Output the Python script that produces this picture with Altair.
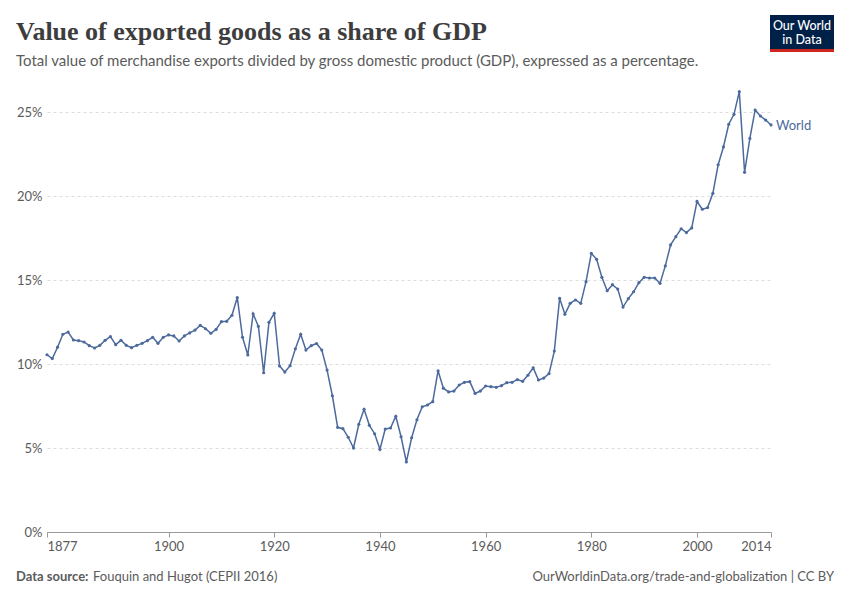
import altair as alt
import pandas as pd

years = list(range(1877, 2015))
values = [
    10.55, 10.32, 11.0, 11.77, 11.9, 11.43, 11.39, 11.31, 11.09, 10.95,
    11.11, 11.41, 11.63, 11.15, 11.41, 11.11, 10.97, 11.11, 11.23, 11.39,
    11.59, 11.23, 11.59, 11.73, 11.67, 11.37, 11.67, 11.85, 12.02, 12.3,
    12.1, 11.83, 12.06, 12.52, 12.54, 12.9, 13.96, 11.59, 10.54, 12.99,
    12.24, 9.48, 12.48, 13.02, 9.88, 9.52, 9.9, 10.91, 11.77, 10.83,
    11.09, 11.22, 10.83, 9.64, 8.11, 6.23, 6.15, 5.64, 5.0, 6.41,
    7.3, 6.35, 5.85, 4.92, 6.13, 6.19, 6.89, 5.67, 4.17, 5.61,
    6.68, 7.45, 7.56, 7.76, 9.6, 8.56, 8.34, 8.39, 8.75, 8.91,
    8.95, 8.25, 8.39, 8.69, 8.65, 8.61, 8.71, 8.89, 8.91, 9.07,
    8.97, 9.33, 9.77, 9.05, 9.16, 9.43, 10.77, 13.91, 12.96, 13.61,
    13.81, 13.61, 14.9, 16.59, 16.23, 15.16, 14.36, 14.72, 14.46, 13.39,
    13.89, 14.3, 14.84, 15.16, 15.12, 15.12, 14.8, 15.84, 17.09, 17.58,
    18.05, 17.82, 18.1, 19.68, 19.21, 19.31, 20.16, 21.86, 22.92, 24.27,
    24.86, 26.21, 21.41, 23.43, 25.12, 24.76, 24.52, 24.23,
]
series_name = "World"
x_ticks = [1877, 1900, 1920, 1940, 1960, 1980, 2000, 2014]
y_ticks = [0, 5, 10, 15, 20, 25]

title_text = "Value of exported goods as a share of GDP"
subtitle_text = ("Total value of merchandise exports divided by gross domestic product (GDP), "
                 "expressed as a percentage.")
source_label = "Data source:"
source_text = "Fouquin and Hugot (CEPII 2016)"
credit_text = "OurWorldinData.org/trade-and-globalization | CC BY"

df = pd.DataFrame({"year": years, "value": values, "entity": series_name})

BLUE = "#4C6A9C"
GREY = "#5b5b5b"
W, H = 724, 441
OX, OY = 47, 91  # plot origin in page coords


def px(x):
    return x - OX


def py(y):
    return y - OY


x_enc = alt.X("year:Q", scale=alt.Scale(domain=[1877, 2014], nice=False, zero=False),
              axis=alt.Axis(values=x_ticks, format="d", title=None, grid=False,
                            domainColor="#999999", tickColor="#999999", tickSize=5,
                            labelFlush=True, labelColor=GREY, labelFontSize=13,
                            labelFont="Lato", labelPadding=3))
y_enc = alt.Y("value:Q", scale=alt.Scale(domain=[0, 26.25], nice=False),
              axis=alt.Axis(values=y_ticks, title=None, labelExpr="datum.value + '%'",
                            grid=True, gridDash=[3, 3], gridColor="#dddddd",
                            domain=False, ticks=False, labelColor=GREY,
                            labelFontSize=13, labelFont="Lato", labelPadding=5))

line = alt.Chart(df).mark_line(
    color=BLUE, strokeWidth=1.5,
    point=alt.OverlayMarkDef(color=BLUE, size=10, filled=True)
).encode(x=x_enc, y=y_enc)

label = alt.Chart(df).transform_filter(alt.datum.year == 2014).mark_text(
    align="left", baseline="middle", dx=5, dy=1, color=BLUE, fontSize=13, font="Lato"
).encode(x="year:Q", y="value:Q", text="entity:N")

one = pd.DataFrame({"a": [0]})
base = alt.Chart(one)

title = base.mark_text(align="left", baseline="alphabetic", font="Liberation Serif",
                       fontSize=26, fontWeight="bold", color="#3d3d3d").encode(
    x=alt.value(px(16)), y=alt.value(py(40)), text=alt.value(title_text))
subtitle = base.mark_text(align="left", baseline="alphabetic", font="Lato",
                          fontSize=15, color=GREY).encode(
    x=alt.value(px(16)), y=alt.value(py(66)), text=alt.value(subtitle_text))

logo_bg = base.mark_rect(color="#002147").encode(
    x=alt.value(px(770)), x2=alt.value(px(834)), y=alt.value(py(15)), y2=alt.value(py(49)))
logo_red = base.mark_rect(color="#CE261E").encode(
    x=alt.value(px(770)), x2=alt.value(px(834)), y=alt.value(py(49)), y2=alt.value(py(52)))
logo_t1 = base.mark_text(align="center", baseline="alphabetic", font="Lato", fontSize=12.5,
                         fontWeight=500, color="white").encode(
    x=alt.value(px(802)), y=alt.value(py(30)), text=alt.value("Our World"))
logo_t2 = base.mark_text(align="center", baseline="alphabetic", font="Lato", fontSize=12.5,
                         fontWeight=500, color="white").encode(
    x=alt.value(px(802)), y=alt.value(py(44)), text=alt.value("in Data"))

src1 = base.mark_text(align="left", baseline="alphabetic", font="Lato", fontSize=13,
                      fontWeight="bold", color=GREY).encode(
    x=alt.value(px(16)), y=alt.value(py(581)), text=alt.value(source_label))
src2 = base.mark_text(align="left", baseline="alphabetic", font="Lato", fontSize=13,
                      color=GREY).encode(
    x=alt.value(px(93)), y=alt.value(py(581)), text=alt.value(source_text))
credit = base.mark_text(align="right", baseline="alphabetic", font="Lato", fontSize=13,
                        color=GREY).encode(
    x=alt.value(px(834)), y=alt.value(py(581)), text=alt.value(credit_text))

chart = alt.layer(line, label, title, subtitle, logo_bg, logo_red, logo_t1, logo_t2,
                  src1, src2, credit).properties(
    width=W, height=H,
    background="white",
    autosize=alt.AutoSizeParams(type="none"),
    padding={"left": OX - 8, "top": OY - 8, "right": 826 - (OX - 8) - W, "bottom": 590 - (OY - 8) - H},
).configure_view(stroke=None, strokeWidth=0)

chart.save("out.html", embed_options={"renderer": "svg", "actions": False})
